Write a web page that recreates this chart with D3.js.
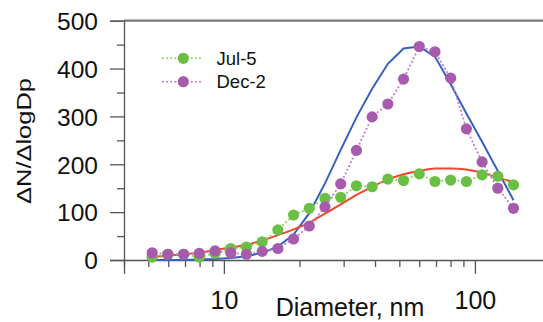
<!DOCTYPE html>
<html>
<head>
<meta charset="utf-8">
<script src="https://cdn.jsdelivr.net/npm/d3@7"></script>
<style>
  html, body { margin: 0; padding: 0; background: #fff; }
  svg { display: block; }
  text { font-family: "Liberation Sans", Arial, sans-serif; fill: #111; }
</style>
</head>
<body>
<svg id="chart" width="543" height="322"></svg>
<script>
// ---- data ----
const diameters = [5.18, 5.98, 6.91, 7.98, 9.22, 10.65, 12.30, 14.21, 16.41, 18.95, 21.89, 25.28,
                   29.20, 33.73, 38.96, 45.0, 51.97, 60.03, 69.33, 80.08, 92.49, 106.8, 123.4, 142.5];
const jul5 = [6, 12, 12, 6, 14, 24, 27, 38, 63, 94, 108, 129, 131, 155, 153, 169, 166, 180, 164, 167, 164, 178, 175, 157];
const dec2 = [15, 12, 12, 14, 19, 15, 12, 18, 24, 44, 71, 111, 159, 229, 299, 326, 378, 446, 435, 380, 274, 205, 150, 108];
const fitJul5 = [7, 9, 12, 15, 21, 26, 32, 41, 52, 64, 78, 97, 116, 136, 153, 168, 179, 186, 191, 191, 189, 182, 172, 163];
const fitDec2 = [0, 0, 0, 1, 2, 4, 8, 15, 28, 53, 98, 160, 230, 298, 358, 410, 442, 446, 425, 367, 306, 247, 186, 125];
const seriesNames = ["Jul-5", "Dec-2"];
const yTicks = [0, 100, 200, 300, 400, 500];
const yMinorTicks = [50, 150, 250, 350, 450];
const xMajorTicks = [10, 100];
const xMinorTicks = [4, 5, 6, 7, 8, 9, 20, 30, 40, 50, 60, 70, 80, 90, 200];

// ---- layout ----
const svg = d3.select("#chart");
const x = d3.scaleLog().domain([4, 250]).range([124, 574.8]);
const y = d3.scaleLinear().domain([0, 500]).range([260, 20.7]);

const colGreen = "#6cbf45", colGreenLine = "#86d95e";
const colPurple = "#a65bad", colPurpleLine = "#c27cc8";
const colBlue = "#3562c0", colRed = "#f2452c";
const axisCol = "#555";

// top frame line
svg.append("line").attr("x1", x(4)).attr("x2", x(250)).attr("y1", y(500)).attr("y2", y(500))
  .attr("stroke", "#777").attr("stroke-width", 2.2);

// y axis
const yAxis = d3.axisLeft(y).tickValues(yTicks).tickSize(14).tickPadding(12);
const gy = svg.append("g").attr("transform", `translate(${x(4)},0)`).call(yAxis);
gy.select(".domain").attr("stroke", axisCol).attr("stroke-width", 1.3);
gy.selectAll(".tick line").attr("stroke", axisCol).attr("stroke-width", 1.3);
gy.selectAll(".tick text").style("font-size", "24.5px").attr("fill", "#111").attr("dy", "0.36em");
const yMinor = d3.axisLeft(y).tickValues(yMinorTicks).tickSize(7).tickFormat("");
const gym = svg.append("g").attr("transform", `translate(${x(4)},0)`).call(yMinor);
gym.select(".domain").remove();
gym.selectAll(".tick line").attr("stroke", axisCol).attr("stroke-width", 1.3);

// x axis
const xAxis = d3.axisBottom(x).tickValues(xMajorTicks).tickSize(14).tickPadding(17)
  .tickFormat(d3.format("d"));
const gx = svg.append("g").attr("transform", `translate(0,${y(0)})`).call(xAxis);
gx.select(".domain").attr("stroke", axisCol).attr("stroke-width", 1.3);
gx.selectAll(".tick line").attr("stroke", axisCol).attr("stroke-width", 1.3);
gx.selectAll(".tick text").style("font-size", "25px").attr("fill", "#111");
const xMinor = d3.axisBottom(x).tickValues(xMinorTicks).tickSize(7).tickFormat("");
const gxm = svg.append("g").attr("transform", `translate(0,${y(0)})`).call(xMinor);
gxm.select(".domain").remove();
gxm.selectAll(".tick line").attr("stroke", axisCol).attr("stroke-width", 1.3);

// axis titles
svg.append("text").attr("x", 350).attr("y", 316).attr("text-anchor", "middle")
  .style("font-size", "25px").text("Diameter, nm");
svg.append("text").attr("transform", "translate(31,141) rotate(-90)").attr("text-anchor", "middle")
  .style("font-size", "21px").attr("textLength", 126).attr("lengthAdjust", "spacingAndGlyphs")
  .text("ΔN/ΔlogDp");

// fit curves
const pts = vals => vals.map((v, i) => [diameters[i], v]);
svg.append("path").datum(pts(fitDec2))
  .attr("d", d3.line().x(d => x(d[0])).y(d => y(d[1])))
  .attr("fill", "none").attr("stroke", colBlue).attr("stroke-width", 2);
svg.append("path").datum(pts(fitJul5))
  .attr("d", d3.line().x(d => x(d[0])).y(d => y(d[1])).curve(d3.curveMonotoneX))
  .attr("fill", "none").attr("stroke", colRed).attr("stroke-width", 2);

// data series
function drawSeries(vals, lineCol, fillCol) {
  svg.append("path").datum(pts(vals))
    .attr("d", d3.line().x(d => x(d[0])).y(d => y(d[1])))
    .attr("fill", "none").attr("stroke", lineCol).attr("stroke-width", 2)
    .attr("stroke-dasharray", "0.1,4").attr("stroke-linecap", "round");
  svg.append("g").selectAll("circle").data(pts(vals)).join("circle")
    .attr("cx", d => x(d[0])).attr("cy", d => y(d[1])).attr("r", 5.6)
    .attr("fill", fillCol);
}
drawSeries(jul5, colGreenLine, colGreen);
drawSeries(dec2, colPurpleLine, colPurple);

// legend
const legend = [
  { name: seriesNames[0], line: colGreenLine, fill: colGreen, yy: 58.3 },
  { name: seriesNames[1], line: colPurpleLine, fill: colPurple, yy: 81.7 }
];
legend.forEach(l => {
  svg.append("line").attr("x1", 163).attr("x2", 203).attr("y1", l.yy).attr("y2", l.yy)
    .attr("stroke", l.line).attr("stroke-width", 2)
    .attr("stroke-dasharray", "0.1,4").attr("stroke-linecap", "round");
  svg.append("circle").attr("cx", 183.3).attr("cy", l.yy).attr("r", 5.6).attr("fill", l.fill);
  svg.append("text").attr("x", 216.5).attr("y", l.yy).attr("dy", "0.36em")
    .style("font-size", "18.5px").text(l.name);
});
</script>
</body>
</html>
